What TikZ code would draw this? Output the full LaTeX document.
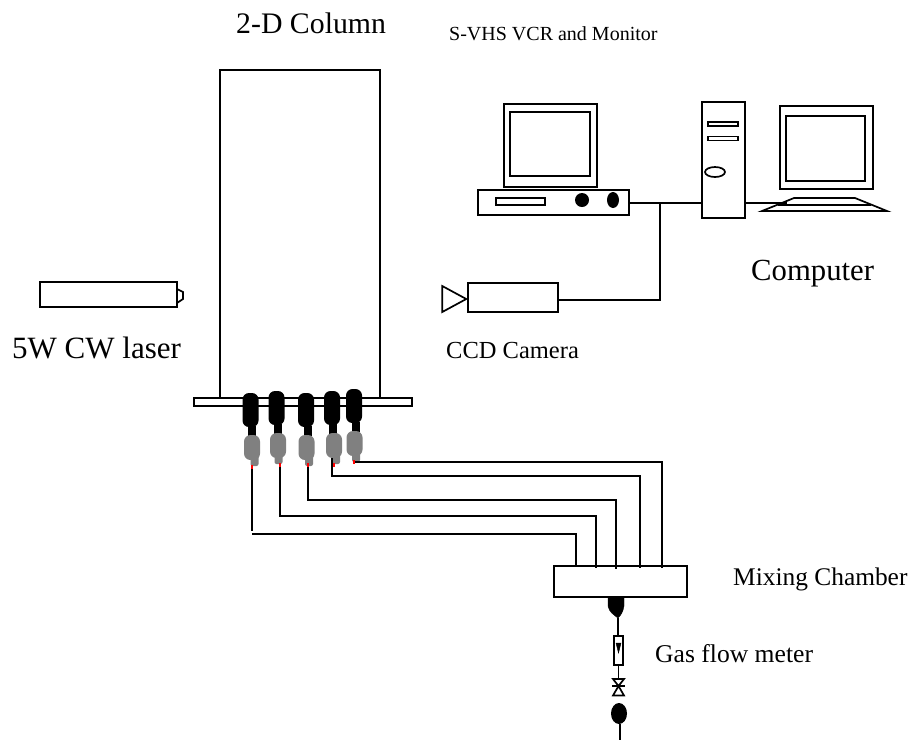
\documentclass[tikz,border=0pt]{standalone}
\usepackage{fontspec}
\setmainfont{Liberation Serif}
\usetikzlibrary{shapes.geometric}
\tikzset{
  box/.style={shape=rectangle, draw=black, line width=1.7pt, fill=white, inner sep=0pt, outer sep=0pt},
  knob/.style={shape=ellipse, draw=black, line width=1.7pt, inner sep=0pt, outer sep=0pt},
  wire/.style={-, line width=1.7pt, draw=black},
  head/.style={shape=rectangle, fill=black, rounded corners=6.5pt, minimum width=16pt, minimum height=34pt, inner sep=0pt},
  neck/.style={shape=rectangle, fill=black, minimum width=8pt, minimum height=10pt, inner sep=0pt},
  body/.style={shape=rectangle, fill=gray, rounded corners=6.5pt, minimum width=16pt, minimum height=25pt, inner sep=0pt},
  nozzle/.style={shape=rectangle, fill=gray, rounded corners=2pt, minimum width=8pt, minimum height=12pt, inner sep=0pt},
  tip/.style={shape=rectangle, fill=red, minimum width=2.5pt, minimum height=4pt, inner sep=0pt},
  label/.style={anchor=base west, inner sep=0pt, font=\fontsize{#1}{#1}\selectfont},
}
\begin{document}
\begin{tikzpicture}[x=1pt, y=-1pt]
\useasboundingbox (0,0) rectangle (912,740);
% column and laser
\node[box, minimum width=160pt, minimum height=328pt] (column) at (300,234) {};
\node[box, minimum width=218pt, minimum height=8pt] (plate) at (303,402) {};
\node[box, minimum width=137pt, minimum height=25pt] (laser) at (108.5,294.5) {};
\draw[wire] (laser.east |- 0,289) -- (183,292) -- (183,299) -- (laser.east |- 0,303);
% computer on the left
\node[box, minimum width=93pt, minimum height=83pt] (monitorA) at (550.5,145.5) {};
\node[box, minimum width=80pt, minimum height=64pt] (screenA) at (550,144) {};
\node[box, minimum width=151pt, minimum height=25pt] (base) at (553.5,202.5) {};
\node[box, minimum width=49pt, minimum height=7pt] (slot) at (520.5,201.5) {};
\node[shape=circle, fill=black, minimum size=14pt, inner sep=0pt] (discA) at (582,200) {};
\node[shape=ellipse, fill=black, minimum width=12pt, minimum height=16pt, inner sep=0pt] (discB) at (613,200) {};
% computer on the right
\node[box, minimum width=43pt, minimum height=116pt] (tower) at (723.5,160) {};
\node[box, minimum width=30pt, minimum height=4pt] (bayA) at (723,124) {};
\node[box, minimum width=30pt, minimum height=4pt] (bayB) at (723,138.5) {};
\node[knob, minimum width=20pt, minimum height=10pt] (power) at (715,172) {};
\node[box, minimum width=93pt, minimum height=83pt] (monitorB) at (826.5,147.5) {};
\node[box, minimum width=79pt, minimum height=65pt] (screenB) at (825.5,148.5) {};
\coordinate (keyboard) at (787,203);
\draw[wire] (762,211) -- (794,198) -- (855,198) -- (887,211) -- cycle;
\draw[wire] (778,205) -- (871,205);
% camera
\node[box, minimum width=90pt, minimum height=29pt] (camera) at (513,297.5) {};
\node[shape=isosceles triangle, draw=black, line width=1.7pt, shape border rotate=0, isosceles triangle stretches, minimum width=26pt, minimum height=24pt, inner sep=0pt, outer sep=0pt] (lens) at (450,299) {};
\coordinate (junction) at (660,203);
\coordinate (corner) at (660,300);
\draw[wire] (base.east |- junction) -- (tower.west |- junction);
\draw[wire] (camera.east |- corner) -- (corner) -- (junction);
\draw[wire] (tower.east |- junction) -- (keyboard);
% plugs under the plate
\node[head] (headA) at (250.5,410) {};
\node[head] (headB) at (276.5,408) {};
\node[head] (headC) at (306,410) {};
\node[head] (headD) at (332,408) {};
\node[head] (headE) at (354,406) {};
\node[neck] (neckA) at (252,431) {};
\node[neck] (neckB) at (278,429) {};
\node[neck] (neckC) at (308,431) {};
\node[neck] (neckD) at (333,429) {};
\node[neck] (neckE) at (356,427) {};
\node[body] (bodyA) at (252,447.5) {};
\node[body] (bodyB) at (278,445.5) {};
\node[body] (bodyC) at (306.5,447.5) {};
\node[body] (bodyD) at (334,445.5) {};
\node[body] (bodyE) at (354.5,443.5) {};
\node[nozzle] (nozzleA) at (254.5,460) {};
\node[nozzle] (nozzleB) at (278.5,458) {};
\node[nozzle] (nozzleC) at (309,460) {};
\node[nozzle] (nozzleD) at (336,458) {};
\node[nozzle] (nozzleE) at (356,456) {};
\node[tip] (tipA) at (252,467) {};
\node[tip] (tipB) at (280,465) {};
\node[tip] (tipC) at (308,465) {};
\node[tip] (tipD) at (334,465) {};
\node[tip] (tipE) at (354,462) {};
% chamber and tubes
\node[box, minimum width=133pt, minimum height=31pt] (chamber) at (620.5,581.5) {};
\coordinate (portA) at (576,566);
\coordinate (portB) at (596,568);
\coordinate (portC) at (616,569);
\coordinate (portD) at (640,568);
\coordinate (portE) at (662,568);
\draw[wire] (tipA.south) -- ++(0,62);
\draw[wire] (252,534) -| (portA);
\draw[wire] (tipB.south) -- ++(0,49) -| (portB);
\draw[wire] (tipC.south) -- ++(0,33) -| (portC);
\draw[wire] ([xshift=-2pt]bodyD.south) -- ++(0,18) -| (portD);
\draw[wire] (tipE.east) -| (portE);
% gas line
\draw[fill=black] (608,597) -- (624,597) -- (624,606) .. controls (623,612) and (621,615) .. (618,618) .. controls (614,615) and (609,612) .. (608,606) -- cycle;
\coordinate (outlet) at (618,618);
\node[box, minimum width=9pt, minimum height=29pt] (meter) at (618.5,650.5) {};
\draw[fill=black] (616,643) -- (621,643) -- (618.5,653) -- cycle;
\coordinate (valve) at (618.5,686);
\draw[wire] (valve) -- ++(-5.5,-7) -- ++(11,0) -- cycle;
\draw[wire] (valve) -- ++(-5.5,9.5) -- ++(11,0) -- cycle;
\draw[wire] ([xshift=-6.5pt]valve) -- ([xshift=6.5pt]valve);
\node[shape=ellipse, fill=black, minimum width=16pt, minimum height=21pt, inner sep=0pt] (bulb) at (619,713.5) {};
\coordinate (feed) at (620,740);
\draw[wire] (outlet) -- (meter.north -| outlet);
\draw[wire] (meter.south) -- (618.5,679);
\draw[wire] (bulb.south -| feed) -- (feed);
% labels
\node[label=29.8] (columntext) at (236,33) {2-D Column};
\node[label=20] (vcrtext) at (449,40.7) {S-VHS VCR and Monitor};
\node[label=30.7] (computertext) at (751,280) {Computer};
\node[label=31] (lasertext) at (12,358) {5W CW laser};
\node[label=24.5] (cameratext) at (446,358) {CCD Camera};
\node[label=25.4] (mixingtext) at (733,585) {Mixing Chamber};
\node[label=25.6] (gastext) at (655,662) {Gas flow meter};
\end{tikzpicture}
\end{document}
